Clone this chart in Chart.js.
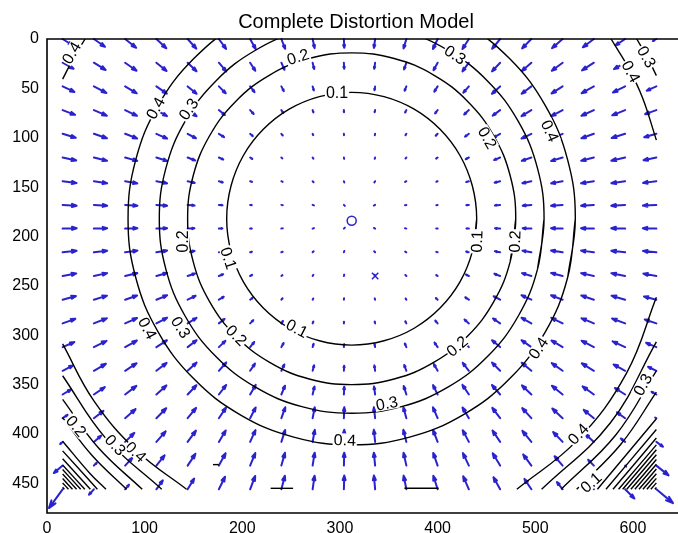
<!DOCTYPE html>
<html>
<head>
<meta charset="utf-8">
<title>Complete Distortion Model</title>
<script src="https://cdn.jsdelivr.net/npm/chart.js@4.4.1/dist/chart.umd.min.js"></script>
<style>
  html, body { margin: 0; padding: 0; background: #fff; overflow: hidden; }
  #box { width: 678px; height: 533px; }
</style>
</head>
<body>
<div id="box"><canvas id="chart" width="678" height="533"></canvas></div>
<script>
// Axis ticks
const xTickValues = [0, 100, 200, 300, 400, 500, 600];
const yTickValues = [0, 50, 100, 150, 200, 250, 300, 350, 400, 450];

// Sampling grid of the displacement field (image pixels)
const gridX = [16, 48, 80, 112, 144, 176, 208, 240, 272, 304, 336, 368, 400, 432, 464, 496, 528, 560, 592, 624];
const gridY = [0, 24, 48, 72, 96, 120, 144, 168, 192, 216, 240, 264, 288, 312, 336, 360, 384, 408, 432, 456];

// Displacement vectors, one row per gridY value (x component)
const dispX = [
  [10.1, 11.4, 11.3, 10.2, 8.9, 7.4, 5.7, 3.9, 2.0, 0.4, -1.2, -2.9, -4.8, -6.6, -8.2, -9.5, -10.9, -11.3, -9.8, -3.6],
  [11.2, 12.0, 11.7, 10.5, 9.1, 7.5, 5.3, 3.2, 1.6, 0.3, -0.9, -2.4, -4.2, -6.6, -8.3, -9.8, -11.1, -12.1, -11.4, -7.4],
  [12.1, 12.8, 11.9, 10.7, 9.2, 7.0, 4.5, 2.5, 1.2, 0.2, -0.7, -1.8, -3.4, -5.7, -8.4, -10.0, -11.3, -12.5, -12.5, -9.9],
  [12.7, 13.3, 12.1, 10.9, 9.2, 6.1, 3.6, 1.9, 0.8, 0.1, -0.5, -1.3, -2.6, -4.8, -7.6, -10.1, -11.5, -12.7, -13.2, -11.5],
  [13.5, 13.4, 12.3, 11.0, 8.5, 5.3, 2.8, 1.4, 0.6, 0.1, -0.3, -0.9, -2.0, -3.9, -6.8, -10.1, -11.7, -12.8, -13.8, -12.5],
  [13.9, 13.5, 12.4, 11.0, 7.8, 4.5, 2.2, 1.0, 0.4, 0.1, -0.2, -0.7, -1.5, -3.2, -6.1, -9.8, -11.8, -13.0, -14.1, -13.1],
  [14.2, 13.6, 12.5, 11.0, 7.3, 4.0, 1.9, 0.8, 0.3, 0.1, -0.2, -0.5, -1.3, -2.7, -5.6, -9.2, -11.8, -13.1, -14.1, -13.6],
  [14.3, 13.6, 12.6, 11.0, 7.1, 3.7, 1.7, 0.7, 0.3, 0.1, -0.2, -0.5, -1.1, -2.6, -5.3, -8.9, -11.8, -13.1, -14.2, -13.8],
  [14.4, 13.6, 12.6, 11.0, 7.0, 3.7, 1.7, 0.6, 0.3, 0.1, -0.2, -0.4, -1.1, -2.5, -5.2, -8.9, -11.8, -13.1, -14.2, -13.9],
  [14.3, 13.6, 12.6, 11.0, 7.2, 3.9, 1.8, 0.8, 0.3, 0.1, -0.2, -0.5, -1.2, -2.7, -5.4, -9.1, -11.8, -13.1, -14.1, -13.7],
  [14.0, 13.5, 12.5, 11.0, 7.6, 4.4, 2.1, 0.9, 0.3, 0.1, -0.2, -0.6, -1.4, -3.0, -5.9, -9.5, -11.8, -13.0, -14.1, -13.3],
  [13.6, 13.4, 12.3, 11.0, 8.2, 5.0, 2.6, 1.2, 0.5, 0.1, -0.3, -0.8, -1.8, -3.7, -6.6, -10.1, -11.8, -12.9, -13.9, -12.7],
  [13.0, 13.3, 12.2, 10.9, 9.1, 5.8, 3.3, 1.6, 0.7, 0.1, -0.4, -1.1, -2.4, -4.5, -7.3, -10.1, -11.6, -12.7, -13.4, -11.9],
  [12.0, 13.0, 12.0, 10.8, 9.2, 6.7, 4.2, 2.3, 1.0, 0.2, -0.6, -1.6, -3.2, -5.4, -8.3, -10.1, -11.4, -12.6, -12.8, -10.5],
  [10.7, 12.3, 11.8, 10.5, 9.2, 7.5, 5.0, 3.0, 1.5, 0.3, -0.8, -2.2, -3.9, -6.3, -8.3, -9.9, -11.1, -12.4, -11.8, -8.5],
  [8.7, 11.2, 11.5, 10.3, 9.0, 7.4, 5.7, 3.7, 1.9, 0.4, -1.1, -2.7, -4.7, -6.6, -8.3, -9.6, -11.0, -11.6, -10.5, -5.0],
  [5.1, 9.8, 10.7, 10.1, 8.7, 7.3, 5.7, 4.0, 2.2, 0.4, -1.3, -3.1, -4.8, -6.5, -8.0, -9.4, -10.6, -10.4, -8.3, -0.2],
  [-2.5, 7.4, 9.4, 9.5, 8.5, 7.0, 5.5, 3.9, 2.2, 0.4, -1.3, -3.1, -4.7, -6.3, -7.8, -9.2, -9.7, -8.8, -4.4, 6.8],
  [-9.0, 3.0, 7.5, 8.4, 8.0, 6.9, 5.3, 3.7, 2.1, 0.4, -1.3, -2.9, -4.5, -6.1, -7.6, -8.4, -8.3, -5.9, 1.1, 12.5],
  [-14.0, -5.0, 3.9, 6.6, 6.7, 6.3, 5.2, 3.6, 2.0, 0.4, -1.2, -2.8, -4.4, -5.8, -6.8, -7.1, -5.8, -1.0, 9.5, 17.0]
];

// Displacement vectors, one row per gridY value (y component)
const dispY = [
  [6.3, 7.9, 8.9, 9.4, 9.7, 10.0, 10.1, 9.9, 9.2, 8.9, 9.0, 9.5, 10.1, 10.1, 9.9, 9.5, 9.3, 8.4, 6.4, 2.1],
  [6.1, 7.3, 8.1, 8.4, 8.7, 8.8, 8.2, 7.2, 6.4, 6.1, 6.2, 6.8, 7.6, 8.8, 8.8, 8.5, 8.2, 7.8, 6.5, 3.8],
  [5.6, 6.6, 7.0, 7.3, 7.5, 7.0, 5.8, 4.8, 4.0, 3.7, 3.8, 4.4, 5.3, 6.4, 7.5, 7.4, 7.1, 6.9, 6.1, 4.3],
  [4.8, 5.6, 5.8, 6.1, 6.2, 5.0, 3.9, 2.9, 2.3, 2.1, 2.2, 2.5, 3.3, 4.5, 5.6, 6.1, 6.0, 5.7, 5.3, 4.1],
  [4.0, 4.5, 4.7, 4.8, 4.5, 3.4, 2.4, 1.7, 1.3, 1.1, 1.2, 1.4, 2.0, 2.9, 3.9, 4.8, 4.8, 4.5, 4.3, 3.5],
  [3.0, 3.3, 3.4, 3.5, 3.0, 2.1, 1.4, 0.9, 0.6, 0.5, 0.6, 0.8, 1.1, 1.7, 2.6, 3.4, 3.5, 3.3, 3.2, 2.7],
  [1.9, 2.1, 2.2, 2.2, 1.7, 1.2, 0.7, 0.4, 0.3, 0.3, 0.3, 0.3, 0.6, 0.9, 1.5, 2.0, 2.2, 2.1, 2.0, 1.7],
  [0.8, 0.8, 0.9, 0.9, 0.7, 0.4, 0.3, 0.2, 0.1, 0.1, 0.1, 0.1, 0.2, 0.3, 0.6, 0.8, 0.9, 0.8, 0.8, 0.7],
  [-0.4, -0.4, -0.4, -0.4, -0.3, -0.2, -0.1, -0.1, -0.1, -0.1, -0.1, -0.1, -0.1, -0.2, -0.3, -0.4, -0.4, -0.4, -0.4, -0.4],
  [-1.5, -1.6, -1.7, -1.8, -1.4, -0.9, -0.6, -0.3, -0.3, -0.3, -0.2, -0.3, -0.4, -0.7, -1.1, -1.6, -1.8, -1.7, -1.6, -1.4],
  [-2.6, -2.9, -3.0, -3.1, -2.5, -1.8, -1.1, -0.7, -0.5, -0.4, -0.5, -0.6, -0.9, -1.4, -2.2, -2.9, -3.1, -2.9, -2.8, -2.4],
  [-3.7, -4.1, -4.2, -4.4, -3.9, -3.0, -2.0, -1.4, -1.0, -0.9, -0.9, -1.2, -1.7, -2.4, -3.5, -4.4, -4.4, -4.2, -4.0, -3.3],
  [-4.6, -5.2, -5.4, -5.7, -5.6, -4.5, -3.3, -2.4, -1.9, -1.7, -1.8, -2.1, -2.8, -3.9, -5.0, -5.7, -5.6, -5.3, -5.0, -4.0],
  [-5.2, -6.3, -6.6, -6.9, -7.0, -6.3, -5.2, -4.1, -3.3, -3.0, -3.1, -3.7, -4.6, -5.7, -7.0, -7.0, -6.7, -6.5, -5.8, -4.3],
  [-5.5, -7.1, -7.7, -8.0, -8.3, -8.4, -7.3, -6.4, -5.6, -5.2, -5.3, -5.9, -6.8, -8.0, -8.3, -8.2, -7.8, -7.6, -6.4, -4.1],
  [-5.2, -7.5, -8.7, -9.1, -9.4, -9.6, -9.7, -8.9, -8.2, -7.9, -8.0, -8.5, -9.5, -9.7, -9.6, -9.2, -8.9, -8.2, -6.6, -2.8],
  [-3.4, -7.4, -9.2, -10.1, -10.4, -10.7, -10.9, -11.0, -11.0, -11.0, -11.0, -11.0, -11.0, -10.8, -10.5, -10.2, -9.8, -8.4, -5.9, -0.1],
  [2.2, -6.3, -9.1, -10.7, -11.4, -11.6, -11.9, -12.1, -12.2, -12.3, -12.2, -12.2, -12.0, -11.7, -11.5, -11.2, -10.0, -7.9, -3.5, 4.9],
  [7.5, -2.8, -8.0, -10.4, -11.9, -12.5, -12.7, -12.9, -13.1, -13.1, -13.1, -13.0, -12.8, -12.6, -12.4, -11.3, -9.5, -5.9, 1.0, 9.9],
  [19.0, 5.5, -4.6, -9.0, -10.8, -12.7, -13.5, -13.7, -13.8, -13.9, -13.9, -13.8, -13.7, -13.1, -12.2, -10.5, -7.3, -1.1, 9.3, 14.0]
];

// Principal point and image centre
const principalPoint = [{x: 312, y: 184}];
const imageCenter = [{x: 336, y: 240}];

// Closed iso-displacement rings around the principal point
// (the second point is repeated at the end so the smoothed ring closes cleanly)
const ring01 = [[440,182],[435.6,215.1],[422.9,246],[402.5,272.5],[376,292.9],[345.1,305.6],[312,310],[278.9,305.6],[248,292.9],[221.5,272.5],[201.1,246],[188.4,215.1],[184,182],[188.4,148.9],[201.1,118],[221.5,91.5],[248,71.1],[278.9,58.4],[312,54],[345.1,58.4],[376,71.1],[402.5,91.5],[422.9,118],[435.6,148.9],[440,182],[435.6,215.1]];
const ring02 = [[480,182],[474.3,225.5],[457.5,266],[430.8,300.8],[396,327.5],[355.5,344.3],[312,350],[268.5,344.3],[228,327.5],[193.2,300.8],[166.5,266],[149.7,225.5],[144,182],[149.7,138.5],[166.5,98],[193.2,63.2],[228,36.5],[268.5,19.7],[312,14],[355.5,19.7],[396,36.5],[430.8,63.2],[457.5,98],[474.3,138.5],[480,182],[474.3,225.5]];
const ring03 = [[509,182],[502.3,233],[482.6,280.5],[451.3,321.3],[410.5,352.6],[363,372.3],[312,379],[261,372.3],[213.5,352.6],[172.7,321.3],[141.4,280.5],[121.7,233],[115,182],[121.7,131],[141.4,83.5],[172.7,42.7],[213.5,11.4],[261,-8.3],[312,-15],[363,-8.3],[410.5,11.4],[451.3,42.7],[482.6,83.5],[502.3,131],[509,182],[502.3,233]];
const ring04 = [[541,182],[533.2,241.3],[510.3,296.5],[473.9,343.9],[426.5,380.3],[371.3,403.2],[312,411],[252.7,403.2],[197.5,380.3],[150.1,343.9],[113.7,296.5],[90.8,241.3],[83,182],[90.8,122.7],[113.7,67.5],[150.1,20.1],[197.5,-16.3],[252.7,-39.2],[312,-47],[371.3,-39.2],[426.5,-16.3],[473.9,20.1],[510.3,67.5],[533.2,122.7],[541,182],[533.2,241.3]];

// Falling-side contours in the corners
const cornerTL04 = [[16,40.7],[26.8,20],[39,0]];
const cornerTR04 = [[577.6,0],[595.9,30],[610,60],[624,102.4]];
const cornerTR03 = [[603.9,0],[615.5,20],[624,37.1]];
const cornerBL04 = [[16,308.8],[48.2,366.7],[92.4,417.5],[142.9,456]];
const cornerBL03 = [[16,341],[60,404.2],[117.5,456]];
const cornerBL02 = [[16,365],[52.6,413.9],[97.5,456]];
const cornerBL01 = [[16,383.4],[46.4,422],[81.6,456]];
const cornerBR04 = [[624,261.6],[593.6,338.1],[543.6,405.7],[481.1,456]];
const cornerBR03 = [[624,306.7],[576.8,388.9],[506.5,456]];
const cornerBR02 = [[624,336.1],[582.4,401],[526.5,456]];
const cornerBR01 = [[624,357.6],[587.4,410.7],[542.4,456]];

// Steeply rising contours packed into the lower corners
const steepBL = [
  [[16,407.3],[44,440],[60.4,456]], [[16,417.1],[51.6,456]], [[16,425],[44.4,456]],
  [[16,431.3],[38.7,456]], [[16,435.9],[34.5,456]], [[16,440.5],[30.3,456]],
  [[16,445.1],[26.1,456]], [[16,449.6],[22,456]], [[16,454],[17.8,456]]
];
const steepBR = [
  [[624,384.6],[563.6,456]], [[624,395.4],[572.4,456]], [[624,404.1],[579.6,456]],
  [[624,411],[585.3,456]], [[624,416],[589.5,456]], [[624,421],[593.7,456]],
  [[624,425.9],[597.9,456]], [[624,430.7],[602,456]], [[624,435.5],[606.2,456]],
  [[624,440.2],[610.2,456]], [[624,444.9],[614.3,456]], [[624,449.5],[618.3,456]],
  [[624,454.1],[622.4,456]]
];
// Short contour pieces along the bottom sampling row
const edgePieces = [
  [[229,455],[252,455]], [[366,455],[401,455]], [[170,431],[176,431]]
];

// Contour labels: text, position, rotation (deg)
const labelText = ['0.1','0.1','0.1','0.1','0.2','0.2','0.2','0.2','0.2','0.2','0.3','0.3','0.3','0.3','0.4','0.4','0.4','0.4','0.4','0.4','0.4','0.3','0.4','0.3','0.2','0.4','0.3','0.1'];
const labelX    = [297, 186, 256, 440, 257, 139, 194, 451, 479, 420, 145, 137, 348, 418, 111, 103, 305, 503, 515, 25, 598, 614, 91, 70, 30, 544, 610, 557];
const labelY    = [54, 222, 293, 205, 18, 205, 300, 100, 205, 311, 71, 292, 369, 16, 70, 293, 406, 313, 93, 14, 33, 18, 418, 411, 392, 400, 350, 449];
const labelRot  = [0, 72, 27, -88, -18, -90, 45, 60, -88, -40, -56, 58, -11, 33, -61, 62, 2, -56, 66, -60, 62, 61, 43, 47, 50, -47, -61, -42];

const ARROW_BLUE = '#2a22cc';
const toPts = arr => arr.map(p => ({x: p[0], y: p[1]}));

const contourSets = [ring01, ring02, ring03, ring04,
  cornerTL04, cornerTR04, cornerTR03, cornerBL04, cornerBL03, cornerBL02, cornerBL01,
  cornerBR04, cornerBR03, cornerBR02, cornerBR01, ...steepBL, ...steepBR, ...edgePieces];

const datasets = contourSets.map(line => ({
  data: toPts(line), showLine: true, borderColor: '#000', borderWidth: 1.4,
  pointRadius: 0, tension: 0.4, fill: false
}));
datasets.push({
  data: principalPoint, pointStyle: 'circle', pointRadius: 4.5, borderWidth: 1.5,
  borderColor: ARROW_BLUE, backgroundColor: 'rgba(0,0,0,0)', showLine: false
});
datasets.push({
  data: imageCenter, pointStyle: 'crossRot', pointRadius: 4.5, borderWidth: 1.5,
  borderColor: ARROW_BLUE, backgroundColor: ARROW_BLUE, showLine: false
});

// Quiver arrows drawn under the contours
const quiverPlugin = {
  id: 'quiver',
  beforeDatasetsDraw(chart) {
    const {ctx, scales: {x, y}} = chart;
    ctx.save();
    ctx.strokeStyle = ARROW_BLUE;
    ctx.lineWidth = 2;
    ctx.lineCap = 'round';
    ctx.lineJoin = 'round';
    gridY.forEach((gy, j) => {
      gridX.forEach((gx, i) => {
        const x0 = x.getPixelForValue(gx), y0 = y.getPixelForValue(gy);
        let x1 = x.getPixelForValue(gx + dispX[j][i]);
        let y1 = y.getPixelForValue(gy + dispY[j][i]);
        let du = x1 - x0, dv = y1 - y0;
        const len = Math.hypot(du, dv);
        if (len < 1.4) {
          const s = len > 0 ? 1.4 / len : 0;
          du = len > 0 ? du * s : 1.4; dv = len > 0 ? dv * s : 0;
          x1 = x0 + du; y1 = y0 + dv;
        }
        ctx.beginPath();
        ctx.moveTo(x0, y0);
        ctx.lineTo(x1, y1);
        if (len >= 1.4) {
          const a = 0.33, b = 0.33;
          ctx.moveTo(x1 - a * (du + b * dv), y1 - a * (dv - b * du));
          ctx.lineTo(x1, y1);
          ctx.lineTo(x1 - a * (du - b * dv), y1 - a * (dv + b * du));
        }
        ctx.stroke();
      });
    });
    ctx.restore();
  }
};

// Contour labels, axes frame and title
const decorPlugin = {
  id: 'decor',
  afterDatasetsDraw(chart) {
    const {ctx, scales: {x, y}} = chart;
    ctx.save();
    ctx.font = '16px "Liberation Sans", Arial, sans-serif';
    ctx.textAlign = 'center';
    ctx.textBaseline = 'middle';
    labelText.forEach((t, k) => {
      const px = x.getPixelForValue(labelX[k]);
      const py = y.getPixelForValue(labelY[k]);
      ctx.save();
      ctx.translate(px, py);
      ctx.rotate(labelRot[k] * Math.PI / 180);
      const w = ctx.measureText(t).width;
      ctx.fillStyle = '#fff';
      ctx.fillRect(-w / 2 - 1, -6.5, w + 2, 13);
      ctx.fillStyle = '#000';
      ctx.fillText(t, 0, 1);
      ctx.restore();
    });
    ctx.restore();
  },
  afterDraw(chart) {
    const {ctx, chartArea: a} = chart;
    ctx.save();
    ctx.strokeStyle = '#000';
    ctx.lineWidth = 1.6;
    ctx.beginPath();
    ctx.moveTo(chart.width, a.top);
    ctx.lineTo(a.left, a.top);
    ctx.lineTo(a.left, a.bottom);
    ctx.lineTo(chart.width, a.bottom);
    ctx.stroke();
    ctx.fillStyle = '#000';
    ctx.font = '20px "Liberation Sans", Arial, sans-serif';
    ctx.textAlign = 'center';
    ctx.textBaseline = 'alphabetic';
    ctx.fillText('Complete Distortion Model', 356, 28);
    ctx.restore();
  }
};

const tickFont = {family: '"Liberation Sans", Arial, sans-serif', size: 16};

new Chart(document.getElementById('chart'), {
  type: 'scatter',
  data: {datasets},
  options: {
    responsive: false,
    devicePixelRatio: 1,
    animation: false,
    events: [],
    layout: {padding: {top: 39, left: 0, right: 0, bottom: 0}},
    plugins: {legend: {display: false}, title: {display: false}, tooltip: {enabled: false}},
    scales: {
      x: {
        type: 'linear', position: 'bottom', min: 0, max: 640,
        grid: {display: false, drawTicks: false}, border: {display: false},
        ticks: {color: '#000', font: tickFont, padding: 6, maxRotation: 0, includeBounds: false},
        afterBuildTicks: s => { s.ticks = xTickValues.map(v => ({value: v})); },
        afterFit: s => { s.height = 20; s.paddingLeft = 0; s.paddingRight = 0; }
      },
      y: {
        type: 'linear', position: 'left', min: 0, max: 480, reverse: true,
        grid: {display: false, drawTicks: false}, border: {display: false},
        ticks: {color: '#000', font: tickFont, padding: 8, includeBounds: false},
        afterBuildTicks: s => { s.ticks = yTickValues.map(v => ({value: v})); },
        afterFit: s => { s.width = 47; }
      }
    }
  },
  plugins: [quiverPlugin, decorPlugin]
});
</script>
</body>
</html>
